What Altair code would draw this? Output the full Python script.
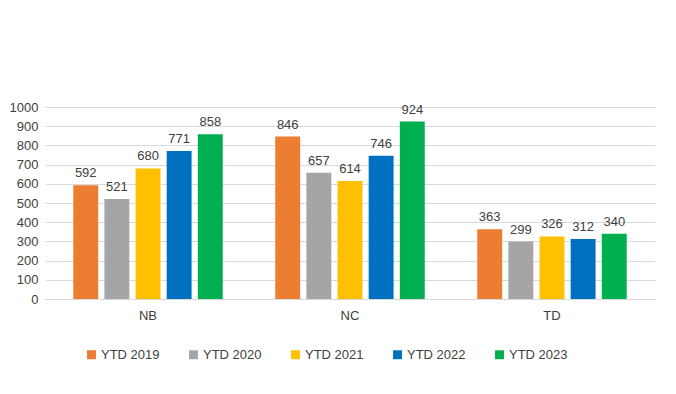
import altair as alt
import pandas as pd

categories = ["NB", "NC", "TD"]
series = ["YTD 2019", "YTD 2020", "YTD 2021", "YTD 2022", "YTD 2023"]
values = {
    "YTD 2019": [592, 846, 363],
    "YTD 2020": [521, 657, 299],
    "YTD 2021": [680, 614, 326],
    "YTD 2022": [771, 746, 312],
    "YTD 2023": [858, 924, 340],
}
colors = ["#ED7D31", "#A5A5A5", "#FFC000", "#0070C0", "#00B050"]
y_ticks = [0, 100, 200, 300, 400, 500, 600, 700, 800, 900, 1000]

rows = []
for s in series:
    for c, v in zip(categories, values[s]):
        rows.append({"cat": c, "series": s, "value": v})
df = pd.DataFrame(rows)

FONT = "Liberation Sans"

base = alt.Chart(df).encode(
    x=alt.X("cat:N", sort=categories,
            scale=alt.Scale(paddingInner=0.26, paddingOuter=0.14),
            axis=alt.Axis(title=None, labelAngle=0, ticks=False, domainColor="#D9D9D9",
                          labelColor="#404040", labelFontSize=13, labelFont=FONT, labelPadding=10)),
    xOffset=alt.XOffset("series:N", sort=series, scale=alt.Scale(paddingInner=0.2)),
    y=alt.Y("value:Q", scale=alt.Scale(domain=[0, 1000], nice=False),
            axis=alt.Axis(title="Number of Units", values=y_ticks, labelOverlap=False,
                          format="d", ticks=False, domain=False, gridColor="#D9D9D9",
                          labelColor="#404040", labelFontSize=13, labelFont=FONT,
                          labelPadding=7, titleColor="#E6E6E6", titleFontSize=11,
                          titleFont=FONT, titleFontWeight="normal", titlePadding=5)),
)

bars = base.mark_bar().encode(
    color=alt.Color("series:N", sort=series,
                    scale=alt.Scale(domain=series, range=colors),
                    legend=alt.Legend(title=None, orient="none", direction="horizontal",
                                      legendX=40, legendY=241, symbolType="square",
                                      symbolSize=80, symbolStrokeWidth=0, columnPadding=27,
                                      labelFontSize=13, labelColor="#404040", labelFont=FONT,
                                      labelOffset=3)),
)

labels = base.mark_text(dy=-12, fontSize=13, color="#404040", font=FONT).encode(
    text="value:Q",
)

chart = (bars + labels).properties(
    width=610, height=192,
    background="white",
    autosize=alt.AutoSizeParams(type="none"),
    padding={"left": 37, "top": 99, "right": 13, "bottom": 87},
).configure_view(stroke=None)

chart.save("out.html", embed_options={"renderer": "svg", "actions": False})
